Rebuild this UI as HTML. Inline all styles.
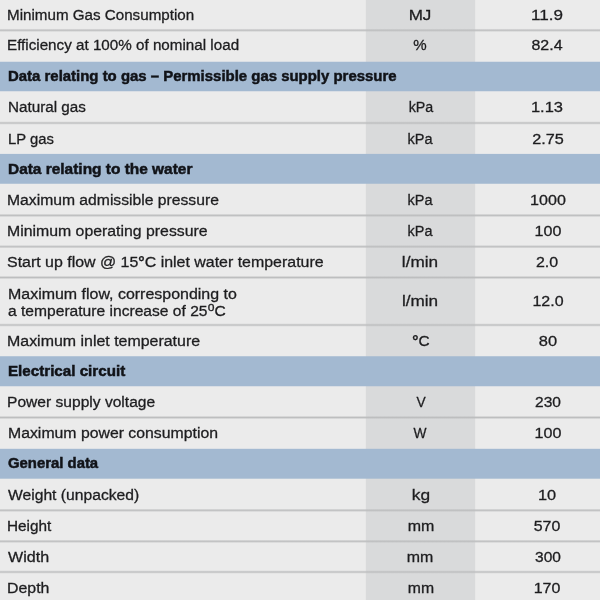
<!DOCTYPE html>
<html><head><meta charset="utf-8"><style>
html,body{margin:0;padding:0;width:600px;height:600px;overflow:hidden;background:#ebebeb}
body{position:relative;filter:blur(0.35px);font-family:"Liberation Sans",sans-serif}
.t{-webkit-text-stroke:0.3px currentColor;position:absolute;white-space:nowrap;font-size:15.4px;line-height:17px;color:#1d1d1f;transform-origin:left center}
.t[style*="text-align:center"]{transform-origin:center center}
.sup{font-size:12px;position:relative;top:-5px;margin-left:0.3px}
.dg{font-weight:bold}
.b{-webkit-text-stroke:0.5px currentColor;font-weight:bold;font-size:15.0px;color:#111318}
</style></head><body>
<svg width="600" height="600" viewBox="0 0 600 600" style="position:absolute;left:0;top:0"><defs><linearGradient id="sg" x1="0" y1="0" x2="0" y2="1"><stop offset="0" stop-color="#bdbebf" stop-opacity="0"/><stop offset="0.5" stop-color="#bdbebf" stop-opacity="1"/><stop offset="1" stop-color="#bdbebf" stop-opacity="0"/></linearGradient></defs><rect x="0" y="0" width="600" height="600" fill="#ebebeb"/><rect x="365.8" y="0" width="109.4" height="600" fill="#d9dadb"/><rect x="0" y="28.45" width="600" height="3.6" fill="url(#sg)"/><rect x="0" y="61.75" width="600" height="29.50" fill="#a3b9d1"/><rect x="0" y="121.20" width="600" height="3.6" fill="url(#sg)"/><rect x="0" y="153.9" width="600" height="29.85" fill="#a3b9d1"/><rect x="0" y="213.60" width="600" height="3.6" fill="url(#sg)"/><rect x="0" y="244.90" width="600" height="3.6" fill="url(#sg)"/><rect x="0" y="275.70" width="600" height="3.6" fill="url(#sg)"/><rect x="0" y="323.20" width="600" height="3.6" fill="url(#sg)"/><rect x="0" y="356.25" width="600" height="30.00" fill="#a3b9d1"/><rect x="0" y="415.70" width="600" height="3.6" fill="url(#sg)"/><rect x="0" y="448.8" width="600" height="29.90" fill="#a3b9d1"/><rect x="0" y="508.50" width="600" height="3.6" fill="url(#sg)"/><rect x="0" y="539.50" width="600" height="3.6" fill="url(#sg)"/><rect x="0" y="570.20" width="600" height="3.6" fill="url(#sg)"/></svg>
<div id="a0" class="t" style="left:7.39px;top:5.62px;transform:scaleX(0.9858)">Minimum Gas Consumption</div>
<div id="b0" class="t" style="left:320.46px;width:200px;text-align:center;top:5.62px;transform:scaleX(1.1080)">MJ</div>
<div id="c0" class="t" style="left:447.37px;width:200px;text-align:center;top:5.62px;transform:scaleX(1.1071)">11.9</div>
<div id="a1" class="t" style="left:7.25px;top:36.40px;transform:scaleX(0.9876)">Efficiency at 100% of nominal load</div>
<div id="b1" class="t" style="left:320.43px;width:200px;text-align:center;top:36.40px;transform:scaleX(0.9788)">%</div>
<div id="c1" class="t" style="left:447.49px;width:200px;text-align:center;top:36.40px;transform:scaleX(1.0374)">82.4</div>
<div id="h2" class="t b" style="left:7.73px;top:67.20px;transform:scaleX(0.9960)">Data relating to gas – Permissible gas supply pressure</div>
<div id="a3" class="t" style="left:7.76px;top:98.22px;transform:scaleX(0.9904)">Natural gas</div>
<div id="b3" class="t" style="left:320.69px;width:200px;text-align:center;top:98.22px;transform:scaleX(0.9268)">kPa</div>
<div id="c3" class="t" style="left:447.46px;width:200px;text-align:center;top:98.22px;transform:scaleX(1.0710)">1.13</div>
<div id="a4" class="t" style="left:7.66px;top:129.55px;transform:scaleX(0.9628)">LP gas</div>
<div id="b4" class="t" style="left:320.35px;width:200px;text-align:center;top:129.55px;transform:scaleX(0.9440)">kPa</div>
<div id="c4" class="t" style="left:447.96px;width:200px;text-align:center;top:129.55px;transform:scaleX(1.0539)">2.75</div>
<div id="h5" class="t b" style="left:7.86px;top:159.53px;transform:scaleX(1.0290)">Data relating to the water</div>
<div id="a6" class="t" style="left:7.34px;top:190.68px;transform:scaleX(1.0195)">Maximum admissible pressure</div>
<div id="b6" class="t" style="left:320.37px;width:200px;text-align:center;top:190.68px;transform:scaleX(0.9406)">kPa</div>
<div id="c6" class="t" style="left:447.88px;width:200px;text-align:center;top:190.68px;transform:scaleX(1.0449)">1000</div>
<div id="a7" class="t" style="left:7.25px;top:222.15px;transform:scaleX(1.0287)">Minimum operating pressure</div>
<div id="b7" class="t" style="left:320.41px;width:200px;text-align:center;top:222.15px;transform:scaleX(0.9352)">kPa</div>
<div id="c7" class="t" style="left:448.12px;width:200px;text-align:center;top:222.15px;transform:scaleX(1.0456)">100</div>
<div id="a8" class="t" style="left:7.32px;top:253.20px;transform:scaleX(1.0353)">Start up flow @ 15<span class="dg">°</span>C inlet water temperature</div>
<div id="b8" class="t" style="left:319.60px;width:200px;text-align:center;top:253.20px;transform:scaleX(1.1156)">l/min</div>
<div id="c8" class="t" style="left:447.17px;width:200px;text-align:center;top:253.20px;transform:scaleX(1.0386)">2.0</div>
<div id="a9" class="t" style="left:7.74px;top:284.60px;transform:scaleX(1.0367)">Maximum flow, corresponding to</div>
<div id="d9" class="t" style="left:8.19px;top:301.60px;transform:scaleX(1.0139)">a temperature increase of 25<span class="sup">o</span>C</div>
<div id="b9" class="t" style="left:319.82px;width:200px;text-align:center;top:292.35px;transform:scaleX(1.1128)">l/min</div>
<div id="c9" class="t" style="left:447.61px;width:200px;text-align:center;top:292.35px;transform:scaleX(1.0390)">12.0</div>
<div id="a10" class="t" style="left:7.28px;top:331.73px;transform:scaleX(1.0353)">Maximum inlet temperature</div>
<div id="b10" class="t" style="left:320.54px;width:200px;text-align:center;top:331.73px;transform:scaleX(1.0012)"><span class="dg">°</span>C</div>
<div id="c10" class="t" style="left:447.51px;width:200px;text-align:center;top:331.73px;transform:scaleX(1.0697)">80</div>
<div id="h11" class="t b" style="left:7.62px;top:361.95px;transform:scaleX(1.0111)">Electrical circuit</div>
<div id="a12" class="t" style="left:7.22px;top:392.98px;transform:scaleX(1.0126)">Power supply voltage</div>
<div id="b12" class="t" style="left:320.63px;width:200px;text-align:center;top:392.98px;transform:scaleX(0.8950)">V</div>
<div id="c12" class="t" style="left:447.60px;width:200px;text-align:center;top:392.98px;transform:scaleX(1.0092)">230</div>
<div id="a13" class="t" style="left:7.75px;top:424.25px;transform:scaleX(1.0273)">Maximum power consumption</div>
<div id="b13" class="t" style="left:320.49px;width:200px;text-align:center;top:424.25px;transform:scaleX(0.8943)">W</div>
<div id="c13" class="t" style="left:447.54px;width:200px;text-align:center;top:424.25px;transform:scaleX(1.0481)">100</div>
<div id="h14" class="t b" style="left:8.44px;top:454.45px;transform:scaleX(0.9920)">General data</div>
<div id="a15" class="t" style="left:8.48px;top:485.60px;transform:scaleX(1.0177)">Weight (unpacked)</div>
<div id="b15" class="t" style="left:321.48px;width:200px;text-align:center;top:485.60px;transform:scaleX(1.1274)">kg</div>
<div id="c15" class="t" style="left:447.42px;width:200px;text-align:center;top:485.60px;transform:scaleX(1.0602)">10</div>
<div id="a16" class="t" style="left:7.23px;top:516.90px;transform:scaleX(0.9958)">Height</div>
<div id="b16" class="t" style="left:320.56px;width:200px;text-align:center;top:516.90px;transform:scaleX(1.0385)">mm</div>
<div id="c16" class="t" style="left:447.46px;width:200px;text-align:center;top:516.90px;transform:scaleX(1.0357)">570</div>
<div id="a17" class="t" style="left:8.35px;top:547.75px;transform:scaleX(1.0443)">Width</div>
<div id="b17" class="t" style="left:320.41px;width:200px;text-align:center;top:547.75px;transform:scaleX(1.0353)">mm</div>
<div id="c17" class="t" style="left:448.24px;width:200px;text-align:center;top:547.75px;transform:scaleX(1.0076)">300</div>
<div id="a18" class="t" style="left:7.09px;top:578.60px;transform:scaleX(1.0325)">Depth</div>
<div id="b18" class="t" style="left:320.70px;width:200px;text-align:center;top:578.60px;transform:scaleX(1.0254)">mm</div>
<div id="c18" class="t" style="left:447.38px;width:200px;text-align:center;top:578.60px;transform:scaleX(1.0401)">170</div>
</body></html>
